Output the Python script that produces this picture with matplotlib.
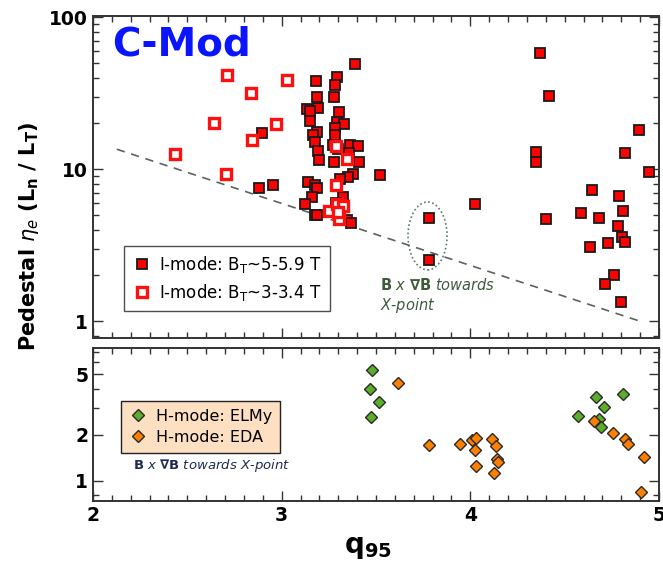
import numpy as np
import matplotlib
matplotlib.use("Agg")
import matplotlib.pyplot as plt
from matplotlib.patches import Ellipse
from matplotlib.ticker import FixedLocator, NullFormatter

plt.rcParams['font.family'] = 'DejaVu Sans'
plt.rcParams['mathtext.fontset'] = 'dejavusans'

# I-mode, B_T ~ 5-5.9 T (filled squares)
q_imode_hi = [3.389, 3.18, 3.293, 3.284, 3.189, 3.277, 3.134, 3.194, 3.15, 3.304,
              3.152, 3.293, 3.33, 3.284, 3.185, 2.896, 3.164, 3.284, 3.178, 3.27,
              3.364, 3.403, 3.192, 3.30, 3.355, 3.196, 3.277, 3.411, 3.521, 3.376,
              3.353, 3.309, 3.141, 3.178, 3.189, 2.952, 2.878, 3.162, 3.123, 3.178,
              3.189, 3.327, 3.344, 3.365, 3.29, 3.31,
              4.367, 4.418, 4.892, 4.348, 4.818, 4.346, 4.948, 4.644, 4.787, 4.026,
              4.586, 4.807, 3.779, 4.681, 4.40, 4.78, 4.803, 4.818, 4.729, 4.635,
              3.779, 4.759, 4.715, 4.797]
eta_imode_hi = [48.9, 37.8, 40.1, 35.5, 29.8, 29.7, 24.9, 25.3, 24.2, 23.8,
                20.8, 20.5, 19.7, 18.7, 17.6, 17.2, 16.7, 16.7, 15.0, 14.5,
                14.5, 14.1, 13.2, 13.5, 12.8, 11.5, 11.1, 11.1, 9.17, 9.25,
                8.8, 8.6, 8.2, 7.9, 7.5, 7.8, 7.5, 6.5, 5.9, 4.98,
                4.96, 6.5, 4.6, 4.4, 6.0, 5.5,
                58.2, 30.2, 18.0, 12.9, 12.8, 11.1, 9.56, 7.27, 6.64, 5.86,
                5.16, 5.29, 4.78, 4.78, 4.67, 4.24, 3.57, 3.32, 3.24, 3.05,
                2.53, 2.0, 1.75, 1.33]

# I-mode, B_T ~ 3-3.4 T (open squares)
q_imode_lo = [2.71, 3.026, 2.836, 2.641, 2.968, 2.843, 2.435, 2.707,
              3.286, 3.346, 3.286, 3.252, 3.291, 3.327, 3.302, 3.30]
eta_imode_lo = [41.8, 38.3, 31.5, 20.0, 19.7, 15.6, 12.6, 9.3,
                14.1, 11.6, 7.8, 5.3, 5.9, 5.7, 4.7, 5.2]

# H-mode
q_elmy = [3.477, 3.468, 3.517, 3.473, 4.572, 4.666, 4.71, 4.81, 4.682, 4.693]
eta_elmy = [5.35, 4.0, 3.3, 2.62, 2.66, 3.57, 3.07, 3.7, 2.55, 2.26]
q_eda = [3.618, 3.782, 3.945, 4.008, 4.031, 4.026, 4.031, 4.113, 4.134, 4.139,
         4.148, 4.127, 4.657, 4.758, 4.82, 4.838, 4.922, 4.905]
eta_eda = [4.37, 1.72, 1.75, 1.85, 1.91, 1.59, 1.25, 1.88, 1.69, 1.38,
           1.33, 1.12, 2.47, 2.05, 1.89, 1.74, 1.43, 0.84]

# dashed boundary line
line_q = [2.126, 4.907]
line_eta = [13.5, 0.99]

fig = plt.figure(figsize=(6.63, 5.63), dpi=100)
ax1 = fig.add_axes([0.1403, 0.3996, 0.8537, 0.572])
ax2 = fig.add_axes([0.1403, 0.1101, 0.8537, 0.2718])

ax1.plot(line_q, line_eta, color='#606060', lw=1.2, ls=(0, (5, 4)))
ax1.plot(q_imode_hi, eta_imode_hi, 's', ms=6.5, mfc='#ff0000', mec='#1a1a1a', mew=1.3,
         ls='none', label=r'I-mode: B$_\mathrm{T}$~5-5.9 T')
ax1.plot(q_imode_lo, eta_imode_lo, 's', ms=6.5, mfc='white', mec='#ff1010', mew=2.4,
         ls='none', label=r'I-mode: B$_\mathrm{T}$~3-3.4 T')

ax1.add_patch(Ellipse((0.591, 0.317), 0.069, 0.211, transform=ax1.transAxes,
                      fill=False, ec='#5a7a66', ls=(0, (1, 1.5)), lw=1.2))
ax1.text(0.507, 0.165, r'$\mathbf{B}$ $\mathit{x}$ $\mathbf{\nabla B}$ $\mathit{towards}$',
         transform=ax1.transAxes, color='#3d5a3d', fontsize=10.5, va='center')
ax1.text(0.507, 0.102, r'$\mathit{X}$-$\mathit{point}$', transform=ax1.transAxes,
         color='#3d5a3d', fontsize=10.5, va='center')
ax1.text(0.033, 0.91, 'C-Mod', transform=ax1.transAxes, color='#0a14ff',
         fontsize=28, fontweight='bold', va='center')

leg1 = ax1.legend(loc='lower left', bbox_to_anchor=(0.055, 0.084), borderaxespad=0,
                  fontsize=12, frameon=True, fancybox=False, handletextpad=0.4,
                  handlelength=1.2, borderpad=0.5, labelspacing=0.4)
leg1.get_frame().set_edgecolor('#222222')
leg1.get_frame().set_linewidth(1.0)

ax2.plot(q_elmy, eta_elmy, 'D', ms=6, mfc='#5cad2a', mec='#2a2a2a', mew=1.0,
         ls='none', label='H-mode: ELMy')
ax2.plot(q_eda, eta_eda, 'D', ms=6, mfc='#ff8000', mec='#2a2a2a', mew=1.0,
         ls='none', label='H-mode: EDA')
leg2 = ax2.legend(loc='lower left', bbox_to_anchor=(0.049, 0.314), borderaxespad=0,
                  fontsize=11.5, frameon=True, fancybox=False, handletextpad=0.5,
                  handlelength=1.2, borderpad=0.5, labelspacing=0.4)
leg2.get_frame().set_facecolor('#fde0c2')
leg2.get_frame().set_edgecolor('#222222')
leg2.get_frame().set_alpha(1)
leg2.get_frame().set_linewidth(1.0)
ax2.text(0.071, 0.235, r'$\mathbf{B}$ $\mathit{x}$ $\mathbf{\nabla B}$ $\mathit{towards\ X}$-$\mathit{point}$',
         transform=ax2.transAxes, color='#1c2a55', fontsize=9.5, va='center')

for ax in (ax1, ax2):
    ax.set_yscale('log')
    ax.set_xlim(2, 5)
    ax.xaxis.set_major_locator(FixedLocator([2, 3, 4, 5]))
    ax.xaxis.set_minor_locator(FixedLocator(np.arange(2, 5.01, 0.1)))
    ax.tick_params(which='both', direction='in', top=True, right=True,
                   color='#333333', width=1.0)
    ax.tick_params(which='major', length=7, labelsize=13.5)
    ax.tick_params(which='minor', length=4)
    for s in ax.spines.values():
        s.set_linewidth(1.4)
        s.set_color('#333333')

ax1.set_ylim(0.773, 101.6)
ax1.yaxis.set_major_locator(FixedLocator([1, 10, 100]))
ax1.set_yticklabels(['1', '10', '100'], fontweight='bold')
ax1.yaxis.set_minor_locator(FixedLocator([0.8, 2, 3, 4, 5, 6, 7, 8, 9,
                                          20, 30, 40, 50, 60, 70, 80, 90]))
ax1.yaxis.set_minor_formatter(NullFormatter())
ax1.tick_params(axis='x', labelbottom=False)

ax2.set_ylim(0.735, 7.46)
ax2.yaxis.set_major_locator(FixedLocator([1, 2, 5]))
ax2.set_yticklabels(['1', '2', '5'], fontweight='bold')
ax2.yaxis.set_minor_locator(FixedLocator([0.8, 3, 4, 6, 7]))
ax2.yaxis.set_minor_formatter(NullFormatter())
ax2.set_xticklabels(['2', '3', '4', '5'], fontweight='bold')

fig.text(0.043, 0.58, r'Pedestal $\eta_e$ ($\mathbf{L_n}$ / $\mathbf{L_T}$)',
         rotation=90, fontsize=15, fontweight='bold', ha='center', va='center')
fig.text(0.555, 0.028, r'$\mathbf{q_{95}}$', fontsize=20, ha='center', va='center')

fig.savefig('out.png', dpi=100)
